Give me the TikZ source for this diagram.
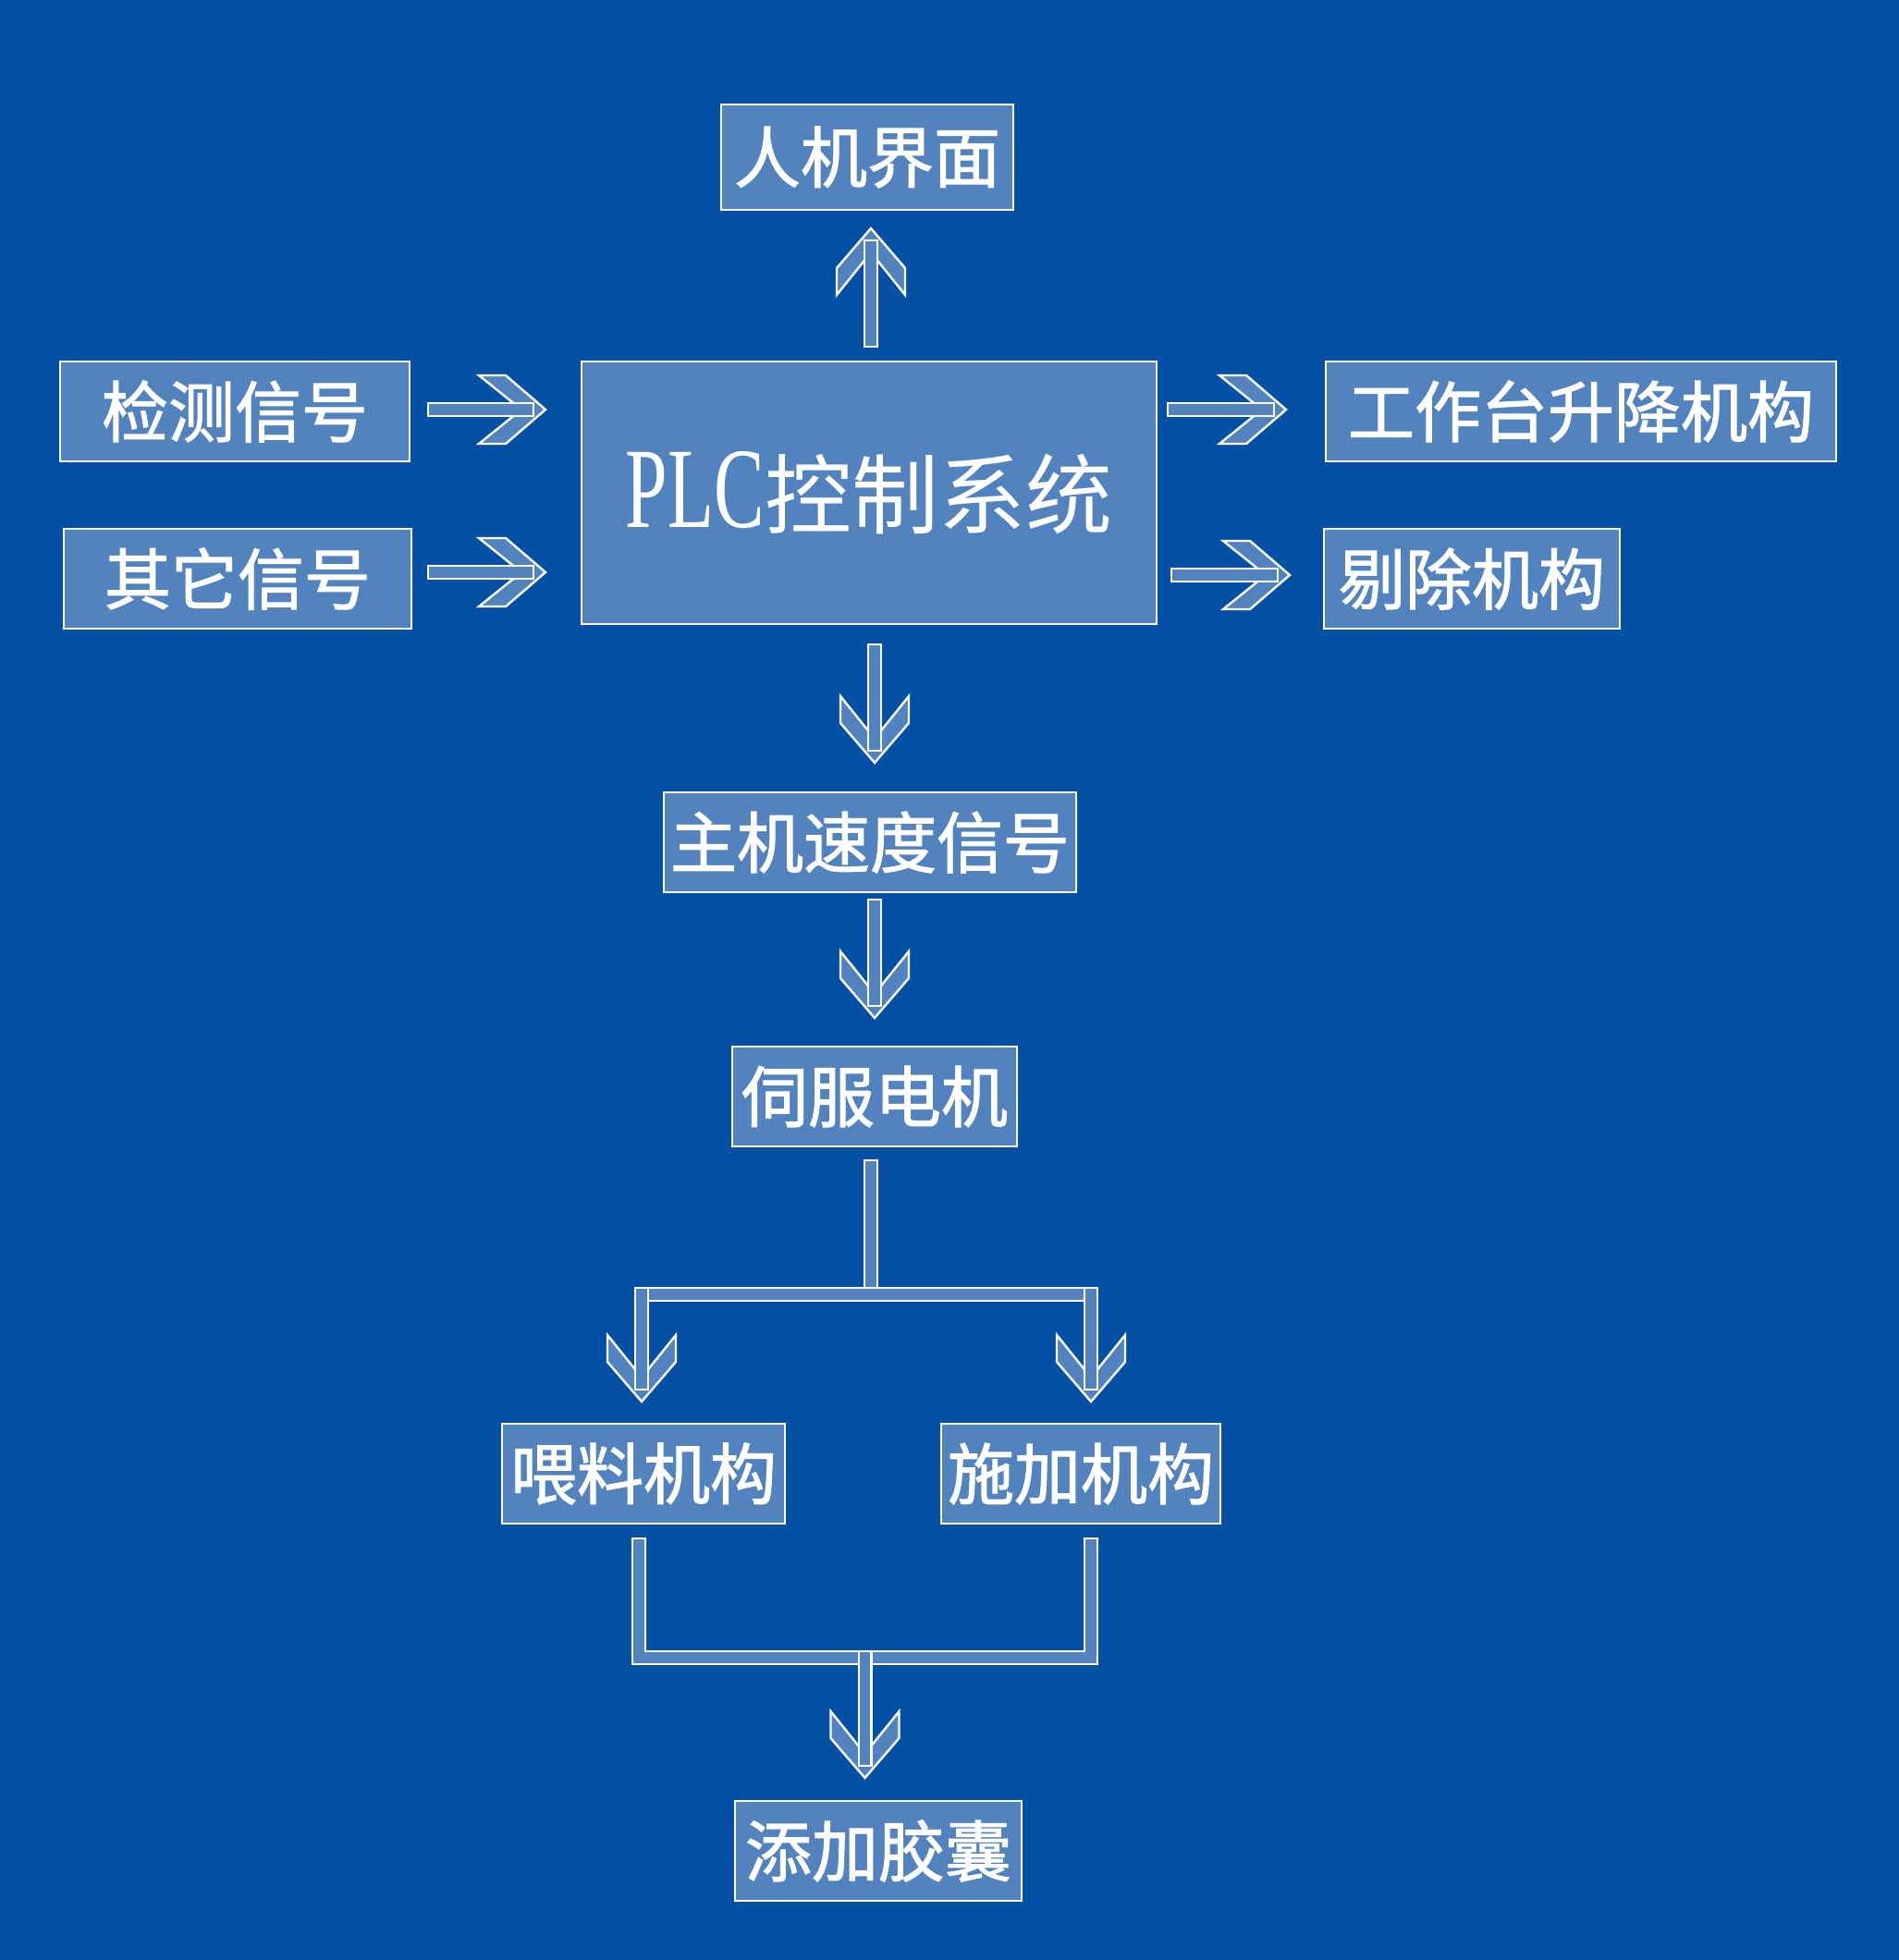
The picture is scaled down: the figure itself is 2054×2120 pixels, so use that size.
\documentclass[tikz,border=0pt]{standalone}
\usepackage{fontspec}
\newfontfamily\cjk[FakeBold=1.5]{Noto Sans CJK SC}
\newfontfamily\cjkthin{Noto Sans CJK SC}
\newfontfamily\latinserif[FakeStretch=0.66]{Liberation Serif}
\usepackage{tikz}
\usetikzlibrary{calc}
\definecolor{bgblue}{RGB}{4,80,164}
\definecolor{boxblue}{RGB}{82,131,190}
\tikzset{chevron/.pic={
    \filldraw[fill=boxblue, draw=white, line width=1.2pt, line join=miter]
      (0,0) -- (-43,37) -- (-72,37) -- (-26,0) -- (-72,-37) -- (-43,-37) -- cycle;}}
\newcommand\flow[3]{%
  \pic[rotate=#3] at (#2) {chevron};
  \draw[pipe, shorten >=10pt] (#1) -- (#2);}
\begin{document}
\begin{tikzpicture}[x=0.5pt, y=-0.5pt,
     box/.style = {draw=white, line width=1pt, fill=boxblue, text=white,
         inner sep=0pt, minimum height=54pt,
         font=\cjk\fontsize{36}{40}\selectfont},
     pipe/.style = {draw=white, line width=1.2pt, double=boxblue,
         double distance=5.6pt, line cap=rect, line join=miter}]
        \fill[bgblue] (0,0) rectangle (2054,2120);
        \useasboundingbox (0,0) rectangle (2054,2120);

        \node [box, minimum width=158pt, minimum height=57pt] (hmi) at (938,170) {人机界面};
        \node [box, minimum width=311pt, minimum height=142pt,
               font=\cjkthin\fontsize{47}{52}\selectfont] (plc) at (940,533)
              {{\latinserif\fontsize{62}{64}\selectfont PLC}控制系统};
        \node [box, minimum width=189pt] (detect) at (254,445) {检测信号};
        \node [box, minimum width=188pt] (other) at (257,626) {其它信号};
        \node [box, minimum width=276pt] (lift) at (1710,445) {工作台升降机构};
        \node [box, minimum width=160pt] (reject) at (1592,626) {剔除机构};
        \node [box, minimum width=223pt] (speed) at (941,911) {主机速度信号};
        \node [box, minimum width=154pt] (servo) at (946,1186) {伺服电机};
        \node [box, minimum width=153pt] (feed) at (696,1594) {喂料机构};
        \node [box, minimum width=151pt] (apply) at (1169,1594) {施加机构};
        \node [box, minimum width=155pt] (capsule) at (950,2002) {添加胶囊};

        \coordinate (fork) at (942,1400);
        \coordinate (fork l) at (694,1400);
        \coordinate (fork r) at (1180,1400);
        \coordinate (join l) at (691,1793);
        \coordinate (join r) at (1180,1793);
        \coordinate (join) at ($(join l)!0.5!(join r)$);

        \flow{$(plc.north)+(2,-22)$}{$(plc.north |- hmi.south)+(2,19)$}{90}
        \flow{$(detect.east)+(26,-2)$}{$(detect.east -| plc.west)+(-38,-2)$}{0}
        \flow{$(other.east)+(24,-7)$}{$(other.east -| plc.west)+(-38,-7)$}{0}
        \flow{$(plc.east |- lift.west)+(18,-2)$}{$(lift.west)+(-42,-2)$}{0}
        \flow{$(plc.east |- reject.west)+(22,-4)$}{$(reject.west)+(-36,-4)$}{0}
        \flow{$(plc.south)+(6,28)$}{$(plc.south |- speed.north)+(6,-31)$}{-90}
        \flow{$(speed.south)+(5,14)$}{$(speed.south |- servo.north)+(5,-30)$}{-90}

        \draw[pipe] ($(servo.south)+(-4,21)$) -- ($(fork)+(0,-7)$);
        \draw[pipe] (fork l) -- (fork r);
        \flow{fork l}{$(fork l |- feed.north)+(0,-23)$}{-90}
        \flow{fork r}{$(fork r |- apply.north)+(0,-23)$}{-90}

        \draw[pipe] (join l |- feed.south) ++(0,22) -- (join l) -- (join r) -- ($(join r |- apply.south)+(0,22)$);
        \flow{join}{$(join |- capsule.north)+(0,-24)$}{-90}
        \end{tikzpicture}
\end{document}
